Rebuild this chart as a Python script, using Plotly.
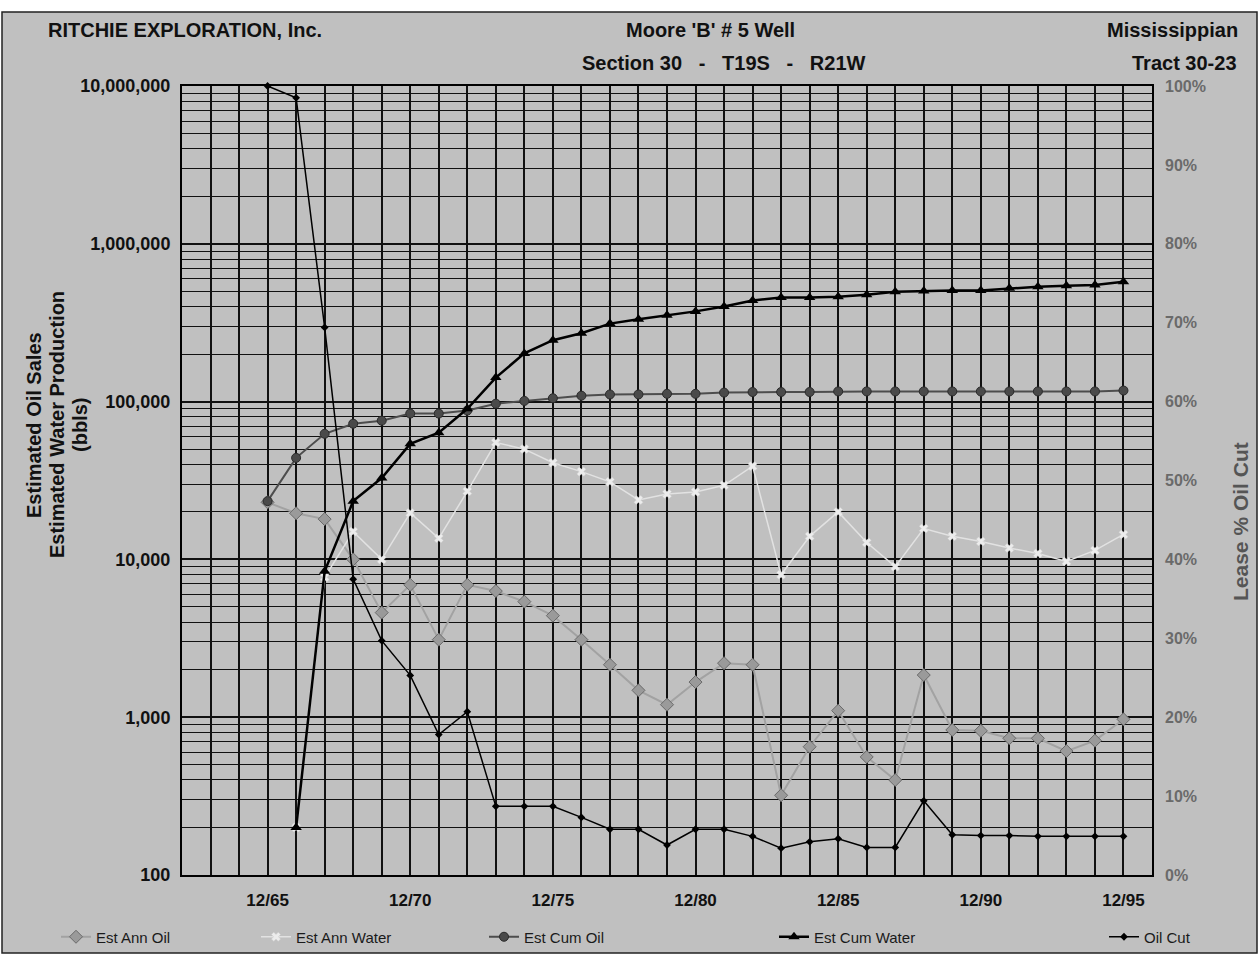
import plotly.graph_objects as go

# ---------------- data ----------------
years = list(range(1965, 1996))
year_labels = ["12/65", "12/70", "12/75", "12/80", "12/85", "12/90", "12/95"]
year_ticks = [1965, 1970, 1975, 1980, 1985, 1990, 1995]

ann_oil = [23000, 19600, 18000, 10000, 4600, 6900, 3100, 6900, 6300, 5400,
           4400, 3100, 2150, 1480, 1200, 1670, 2200, 2150, 320, 650,
           1100, 560, 400, 1850, 830, 820, 735, 735, 610, 710, 970]
ann_water = [None, 200, 7700, 15000, 10000, 19700, 13600, 27000, 55000, 50000,
             41000, 36000, 31000, 23800, 26000, 26700, 29500, 39000, 8000, 14000,
             20000, 12800, 9000, 15700, 14000, 13000, 11800, 10900, 9700, 11400, 14400]
cum_oil = [23400, 44000, 62500, 72400, 75700, 84000, 84000, 87700, 97000, 101000,
           105000, 109000, 111000, 111000, 112000, 112000, 114000, 115000, 115000, 115000,
           116000, 116000, 116000, 116000, 116000, 116000, 116000, 116000, 116000, 116000, 117500]
cum_water = [None, 200, 8400, 23400, 32800, 54000, 63500, 90000, 142000, 202000,
             245000, 271000, 312000, 333000, 353000, 373000, 401000, 437000, 456000, 456000,
             462000, 475000, 497000, 502000, 505000, 505000, 522000, 535000, 542000, 548000, 575000]
oil_cut = [100, 98.5, 69.4, 37.5, 29.7, 25.3, 17.8, 20.7, 8.7, 8.7,
           8.7, 7.3, 5.8, 5.8, 3.8, 5.8, 5.8, 4.9, 3.4, 4.2,
           4.6, 3.5, 3.5, 9.4, 5.1, 5.0, 5.0, 4.9, 4.9, 4.9, 4.9]

left_tick_vals = [100, 1000, 10000, 100000, 1000000, 10000000]
left_tick_text = ["100", "1,000", "10,000", "100,000", "1,000,000", "10,000,000"]
right_tick_vals = list(range(0, 101, 10))
right_tick_text = [f"{v}%" for v in right_tick_vals]

# ---------------- geometry helpers ----------------
W, H = 1259, 955
L, R, T, B = 182, 1152, 86, 875


def px(x):
    return (x - L) / (R - L)


def py(y):
    return (B - y) / (B - T)


FONT = "Liberation Sans, Arial, sans-serif"
GRID = "#111111"
NB = "\u00a0"

fig = go.Figure()

fig.add_trace(go.Scatter(
    x=years, y=ann_oil, name="Est Ann Oil", mode="lines+markers",
    line=dict(color="#a2a2a2", width=2),
    marker=dict(symbol="diamond", size=10, color="#9a9a9a", line=dict(color="#6a6a6a", width=1)),
    cliponaxis=False, legend="legend"))

fig.add_trace(go.Scatter(
    x=years, y=ann_water, name="Est Ann Water", mode="lines+markers",
    line=dict(color="#e2e2e2", width=1.5),
    marker=dict(symbol="x", size=8, color="#ececec", line=dict(color="#d0d0d0", width=0.5)),
    cliponaxis=False, legend="legend2"))

fig.add_trace(go.Scatter(
    x=years, y=cum_oil, name="Est Cum Oil", mode="lines+markers",
    line=dict(color="#4d4d4d", width=2),
    marker=dict(symbol="circle", size=9, color="#4a4a4a", line=dict(color="#2a2a2a", width=1)),
    cliponaxis=False, legend="legend3"))

fig.add_trace(go.Scatter(
    x=years, y=cum_water, name="Est Cum Water", mode="lines+markers",
    line=dict(color="#000000", width=2.5),
    marker=dict(symbol="triangle-up", size=10, color="#000000"),
    cliponaxis=False, legend="legend4"))

fig.add_trace(go.Scatter(
    x=years, y=oil_cut, name="Oil Cut", mode="lines+markers", yaxis="y2",
    line=dict(color="#000000", width=1.5),
    marker=dict(symbol="diamond", size=6, color="#000000"),
    cliponaxis=False, legend="legend5"))

axis_common = dict(showline=True, linecolor="#000000", linewidth=2, mirror=True, ticks="")

fig.update_layout(
    width=W, height=H, autosize=False, showlegend=True,
    margin=dict(l=L, r=W - R, t=T, b=H - B, pad=0, autoexpand=False),
    paper_bgcolor="#ffffff",
    plot_bgcolor="rgba(0,0,0,0)",
    font=dict(family=FONT, color="#111111"),
    xaxis=dict(
        range=[1962, 1996], tickvals=year_ticks, ticktext=year_labels,
        tickfont=dict(size=17, family=FONT, color="#111111", weight="bold"),
        showgrid=True, gridcolor=GRID, gridwidth=1.5,
        minor=dict(dtick=1, tick0=1962, showgrid=True, gridcolor=GRID, gridwidth=1.5),
        ticklabelstandoff=9, zeroline=False, automargin=False, **axis_common),
    yaxis=dict(
        type="log", range=[2, 7], tickvals=left_tick_vals, ticktext=left_tick_text,
        tickfont=dict(size=18, family=FONT, color="#111111", weight="bold"),
        showgrid=True, gridcolor=GRID, gridwidth=1.6,
        minor=dict(dtick="D1", showgrid=True, gridcolor=GRID, gridwidth=1.3),
        ticklabelstandoff=6, automargin=False, **axis_common),
    yaxis2=dict(
        overlaying="y", side="right", range=[0, 100],
        tickvals=right_tick_vals, ticktext=right_tick_text,
        tickfont=dict(size=16, family=FONT, color="#6a6a6a", weight="bold"),
        showgrid=False, zeroline=False, ticks="", showline=False,
        ticklabelstandoff=12, automargin=False),
)

# separate legends so each entry sits where it does in the reference
legend_font = dict(size=15, family=FONT, color="#1a1a1a")
legend_pos = {"legend": 56, "legend2": 256, "legend3": 484, "legend4": 774, "legend5": 1104}
for key, xpix in legend_pos.items():
    fig.update_layout(**{key: dict(
        x=px(xpix), y=py(937), xanchor="left", yanchor="middle",
        orientation="h", bgcolor="rgba(0,0,0,0)", borderwidth=0,
        font=legend_font, itemwidth=30, tracegroupgap=0)})

# frame / background panel
fig.add_shape(type="rect", xref="paper", yref="paper",
              x0=px(2), x1=px(1257), y0=py(953), y1=py(12),
              fillcolor="#c0c0c0", line=dict(color="#222222", width=1.5), layer="below")

# header texts
hdr = dict(size=20, family=FONT, color="#111111", weight="bold")
sep = f"{NB}{NB}{NB}-{NB}{NB}{NB}"
annots = [
    dict(text="RITCHIE EXPLORATION, Inc.", x=px(46), y=py(30), xanchor="left"),
    dict(text="Moore 'B' # 5 Well", x=px(710), y=py(30), xanchor="center"),
    dict(text=f"Section{NB}30{sep}T19S{sep}R21W", x=px(724), y=py(63), xanchor="center"),
    dict(text="Mississippian", x=px(1240), y=py(30), xanchor="right"),
    dict(text="Tract 30-23", x=px(1239), y=py(63), xanchor="right"),
]
for a in annots:
    fig.add_annotation(xref="paper", yref="paper", yanchor="middle", showarrow=False,
                       font=hdr, **a)

# left axis title (three rotated lines) and right axis title
ttl = dict(size=20, family=FONT, color="#111111", weight="bold")
for text, xpix in [("Estimated Oil Sales", 34), ("Estimated Water Production", 57), ("(bbls)", 80)]:
    fig.add_annotation(xref="paper", yref="paper", x=px(xpix), y=py(425),
                       text=text, textangle=-90, showarrow=False,
                       xanchor="center", yanchor="middle", font=ttl)
fig.add_annotation(xref="paper", yref="paper", x=px(1240), y=py(522),
                   text="Lease % Oil Cut", textangle=-90, showarrow=False,
                   xanchor="center", yanchor="middle",
                   font=dict(size=21, family=FONT, color="#555555", weight="bold"))

fig.write_html("out.html")
